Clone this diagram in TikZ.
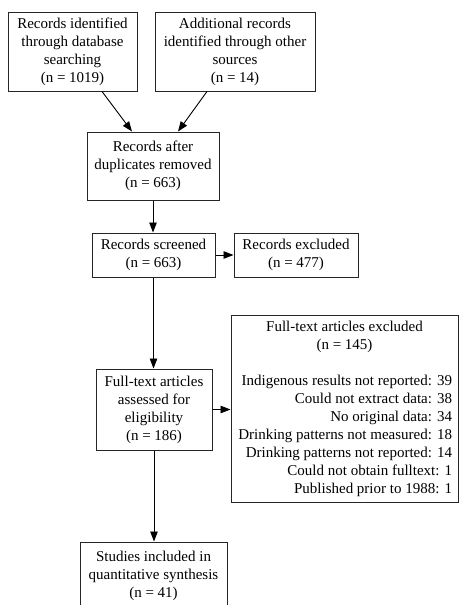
\documentclass[tikz,border=0pt]{standalone}
\usepackage{fontspec}
\setmainfont{Liberation Serif}
\usetikzlibrary{arrows.meta,positioning}
\begin{document}
\begin{tikzpicture}[x=1pt,y=-1pt,
  every node/.style={font=\fontsize{15}{18}\selectfont},
  box/.style={draw=black!85,line width=1pt,rectangle,inner sep=0pt,align=center},
  conn/.style={draw=black,line width=0.9pt,-{Triangle[length=10pt,width=7.5pt]}}]
\useasboundingbox (0,0) rectangle (459,605);

\node[box,minimum width=129pt,minimum height=79pt] (b1) at (72.5,51.5)
  {Records identified\\through database\\searching\\(n = 1019)};
\node[box,minimum width=160pt,minimum height=79pt] (b2) at (235,51.5)
  {Additional records\\identified through other\\sources\\(n = 14)};
\node[box,minimum width=132pt,minimum height=68pt] (b3) at (153,166)
  {Records after\\duplicates removed\\(n = 663)};
\node[box,minimum width=123pt,minimum height=44pt] (b4) at (153.5,255)
  {Records screened\\(n = 663)};
\node[box,minimum width=124pt,minimum height=44pt] (b5) at (296,255)
  {Records excluded\\(n = 477)};
\node[box,minimum width=116pt,minimum height=81pt] (b6) at (154,409.5)
  {Full-text articles\\assessed for\\eligibility\\(n = 186)};
\node[box,minimum width=227pt,minimum height=187pt,text width=215pt,align=none] (b7) at (344.5,408.5)
  {{\centering Full-text articles excluded\\(n = 145)\par}\vspace{18pt}%
   {\raggedleft Indigenous results not reported: 39\\
   Could not extract data: 38\\
   No original data: 34\\
   Drinking patterns not measured: 18\\
   Drinking patterns not reported: 14\\
   Could not obtain fulltext: 1\\
   Published prior to 1988: 1\par}};
\node[box,minimum width=147pt,minimum height=67pt] (b8) at (153.5,575.5)
  {Studies included in\\quantitative synthesis\\(n = 41)};

\draw[conn] ([xshift=29.5pt]b1.south) -- ([xshift=-21pt]b3.north);
\draw[conn] ([xshift=-28pt]b2.south) -- ([xshift=25pt]b3.north);
\draw[conn] (b3.south) -- (b3.south |- b4.north);
\draw[conn] (b4.east) -- (b4.east -| b5.west);
\draw[conn] (b4.south) -- (b4.south |- b6.north);
\draw[conn] (b6.east) -- (b6.east -| b7.west);
\draw[conn] (b6.south) -- (b6.south |- b8.north);
\end{tikzpicture}
\end{document}
